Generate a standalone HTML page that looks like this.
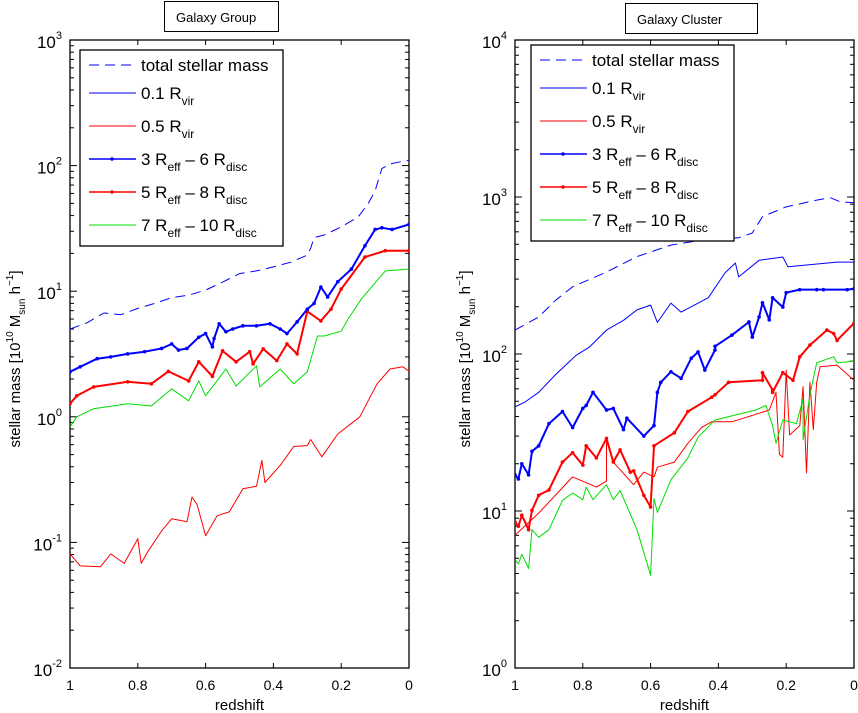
<!DOCTYPE html>
<html><head><meta charset="utf-8">
<style>
html,body{margin:0;padding:0;background:#fff;}
svg{display:block;font-family:"Liberation Sans",sans-serif;}
</style></head>
<body>
<svg id="chart" width="858" height="713" viewBox="0 0 858 713" xmlns="http://www.w3.org/2000/svg"></svg>
<script>
// ---------- data: Galaxy Group ----------
const gTotalZ = [1,0.95,0.9,0.85,0.8,0.75,0.7,0.65,0.6,0.55,0.5,0.45,0.4,0.35,0.3,0.29,0.28,0.25,0.2,0.15,0.12,0.1,0.08,0.05,0.02,0];
const gTotalV = [5.0,5.6,6.7,6.5,7.3,8.0,8.9,9.3,10.2,11.8,13.8,14.5,15.6,17,19.4,22,26.7,28,32.5,39,50,63,95,104,108,110];
const gS36Z = [1,0.97,0.92,0.88,0.83,0.78,0.73,0.7,0.68,0.655,0.62,0.6,0.58,0.575,0.56,0.54,0.52,0.49,0.45,0.41,0.38,0.36,0.33,0.3,0.28,0.26,0.24,0.21,0.17,0.13,0.1,0.08,0.05,0];
const gS36V = [2.28,2.5,2.9,3.0,3.17,3.3,3.5,3.8,3.4,3.5,4.3,4.6,3.6,4.2,5.5,4.75,5.0,5.3,5.3,5.5,5.0,4.6,5.7,7.2,8.0,10.8,9.0,11.9,15,23,31,32,31,34];
const gR05Z = [1,0.97,0.91,0.88,0.84,0.8,0.79,0.77,0.73,0.7,0.655,0.64,0.625,0.6,0.566,0.53,0.49,0.45,0.434,0.425,0.38,0.34,0.3,0.29,0.257,0.21,0.145,0.094,0.056,0.018,0];
const gR05V = [0.081,0.065,0.064,0.081,0.068,0.107,0.068,0.085,0.123,0.154,0.146,0.23,0.2,0.113,0.163,0.175,0.267,0.28,0.45,0.30,0.41,0.58,0.59,0.66,0.48,0.73,1.0,1.83,2.4,2.5,2.3];
const gS58Z = [1,0.98,0.93,0.83,0.76,0.71,0.65,0.62,0.58,0.55,0.51,0.47,0.46,0.43,0.39,0.36,0.33,0.3,0.26,0.23,0.2,0.13,0.07,0];
const gS58V = [1.27,1.47,1.73,1.9,1.83,2.3,1.93,2.74,2.1,3.35,2.74,3.3,2.64,3.47,2.8,3.8,3.17,6.9,5.8,7.2,10.4,18.7,21,21];
const gS710Z = [1,0.98,0.93,0.83,0.76,0.7,0.65,0.62,0.6,0.54,0.51,0.45,0.44,0.38,0.34,0.3,0.27,0.25,0.2,0.18,0.14,0.07,0];
const gS710V = [0.83,1.0,1.16,1.27,1.22,1.67,1.34,1.93,1.47,2.4,1.76,2.55,1.73,2.4,1.83,2.28,4.4,4.4,4.8,6.0,8.7,14.5,15];
// ---------- data: Galaxy Cluster ----------
const cTotalZ = [1,0.93,0.88,0.83,0.73,0.64,0.54,0.44,0.34,0.3,0.27,0.2,0.11,0.07,0.04,0];
const cTotalV = [142,172,220,268,333,417,494,535,550,590,750,865,955,990,930,920];
const cR01Z = [1,0.97,0.93,0.88,0.82,0.78,0.73,0.68,0.64,0.6,0.58,0.54,0.51,0.43,0.38,0.35,0.34,0.28,0.21,0.195,0.05,0];
const cR01V = [46,49.5,57,74,98,111,142,164,191,205,159,211,185,228,330,380,310,395,415,360,385,385];
const cS36Z = [1,0.99,0.98,0.96,0.95,0.93,0.9,0.86,0.83,0.8,0.79,0.77,0.73,0.71,0.68,0.67,0.62,0.59,0.58,0.57,0.54,0.51,0.48,0.46,0.44,0.41,0.41,0.36,0.31,0.3,0.28,0.27,0.25,0.24,0.21,0.2,0.16,0.11,0.09,0.02,0];
const cS36V = [17,16,20,17,24,26,36,43,34,45,47,57,44,45,33,39,30,35,57,66,77,70,94,103,79,106,112,132,160,128,172,212,165,228,199,246,257,257,257,257,260];
const cS58Z = [1,0.99,0.98,0.96,0.95,0.93,0.9,0.86,0.83,0.8,0.79,0.76,0.73,0.71,0.69,0.66,0.65,0.62,0.6,0.59,0.53,0.49,0.42,0.41,0.37,0.27,0.27,0.24,0.24,0.21,0.18,0.16,0.13,0.08,0.06,0.05,0];
const cS58V = [8.5,8,9.4,7.6,10.1,12.6,13.6,20.5,23.5,19.6,26,21.8,29,20.5,24.5,17.7,18,12.6,10.6,26,31.5,43,53,55,66,68,76,59,57,76,68,96,114,142,135,122,157];
const cR05Z = [1,0.93,0.83,0.76,0.73,0.73,0.71,0.65,0.62,0.59,0.58,0.53,0.49,0.45,0.42,0.36,0.25,0.23,0.22,0.21,0.2,0.19,0.16,0.15,0.14,0.13,0.12,0.11,0.1,0.05,0];
const cR05V = [7.0,9.7,16.5,14.2,15.5,28,20.5,14.7,17.7,16.5,19,20.5,27,34,37,37,44,57,23,22,79,30.5,35,62,17.5,66,33,66,83,85,68];
const cS710Z = [1,0.99,0.98,0.96,0.95,0.93,0.9,0.86,0.83,0.8,0.79,0.77,0.73,0.71,0.69,0.64,0.6,0.59,0.58,0.54,0.49,0.46,0.41,0.29,0.26,0.24,0.23,0.21,0.17,0.15,0.15,0.13,0.11,0.06,0.05,0];
const cS710V = [4.9,4.6,5.3,4.3,7.6,6.8,7.6,11.7,13,11.8,14.2,11.8,14.7,11.8,13.5,7.6,3.9,12,9.8,15.8,21.8,29.5,38,44,47,35,27,38,36,52,28.5,55,88,96,88,90];

// ticks
const xTicks = [1,0.8,0.6,0.4,0.2,0];
const xTickLabels = ["1","0.8","0.6","0.4","0.2","0"];
const gDecades = [-2,-1,0,1,2,3];
const cDecades = [0,1,2,3,4];

const NS = "http://www.w3.org/2000/svg";
const svg = document.getElementById('chart');
function el(tag, attrs, parent){
  const e = document.createElementNS(NS, tag);
  for (const k in attrs) e.setAttribute(k, attrs[k]);
  (parent||svg).appendChild(e);
  return e;
}

function makePanel(cfg){
  const g = el('g', {});
  
  
  const L=cfg.x0, R=cfg.x1, T=cfg.y0, B=cfg.y1;
  const xS = z => L + (1 - z) * (R - L);
  const yS = v => B - (Math.log10(v) - cfg.dmin) / (cfg.dmax - cfg.dmin) * (B - T);

  const tb = el('g', {}, g);
  
  
  el('rect', {x:cfg.tx0+0.5, y:cfg.ty0+0.5, width:cfg.tx1-cfg.tx0, height:30, fill:'#fff', stroke:'#000', 'stroke-width':1}, tb);
  const tt = el('text', {x:cfg.tx0+12, y:cfg.ty0+21, 'font-size':13, fill:'#000'}, tb);
  tt.textContent = cfg.title;

  const frame = el('rect', {x:L, y:T, width:R-L, height:B-T, fill:'none', stroke:'#000', 'stroke-width':1.3}, g);
  
  

  xTicks.forEach((z,i)=>{
    const x = xS(z);
    el('line',{x1:x,y1:B,x2:x,y2:B-5,stroke:'#000','stroke-width':1},g);
    el('line',{x1:x,y1:T,x2:x,y2:T+5,stroke:'#000','stroke-width':1},g);
    const t = el('text',{x:x,y:B+22,'font-size':14,'text-anchor':'middle',fill:'#000'},g);
    
    
    t.textContent = xTickLabels[i];
  });
  const xl = el('text',{x:(L+R)/2,y:B+42,'font-size':15,'text-anchor':'middle',fill:'#000'},g);
  
  
  xl.textContent = 'redshift';

  cfg.decades.forEach((d,i)=>{
    const y = yS(Math.pow(10,d));
    el('line',{x1:L,y1:y,x2:L+7,y2:y,stroke:'#000','stroke-width':1},g);
    el('line',{x1:R,y1:y,x2:R-7,y2:y,stroke:'#000','stroke-width':1},g);
    const t = el('text',{x:L-8,y:y+8,'font-size':17,'text-anchor':'end',fill:'#000'},g);
    
    
    const b = el('tspan',{},t); b.textContent='10';
    const s = el('tspan',{dy:-9,'font-size':11},t); s.textContent=String(d);
    if (i < cfg.decades.length-1){
      for (let m=2;m<=9;m++){
        const ym = yS(m*Math.pow(10,d));
        el('line',{x1:L,y1:ym,x2:L+4,y2:ym,stroke:'#000','stroke-width':1},g);
        el('line',{x1:R,y1:ym,x2:R-4,y2:ym,stroke:'#000','stroke-width':1},g);
      }
    }
  });
  const cy = (T+B)/2 + 5;
  const yl = el('text',{x:0,y:0,'font-size':15,'text-anchor':'middle',fill:'#000',transform:`translate(${cfg.ylx},${cy}) rotate(-90)`},g);
  
  
  [['stellar mass [10',0,15],['10',-7,10],[' M',7,15],['sun',5,10],[' h',-5,15],['−1',-7,10],[']',7,15]].forEach(p=>{
    const ts = el('tspan',{dy:p[1],'font-size':p[2]},yl); ts.textContent=p[0];
  });

  const clip = 'clip-'+cfg.name;
  const cp = el('clipPath',{id:clip},g);
  el('rect',{x:L,y:T,width:R-L,height:B-T},cp);
  const sg = el('g',{'clip-path':`url(#${clip})`},g);
  cfg.series.forEach(s=>{
    const pts = s.z.map((z,i)=>xS(z).toFixed(1)+','+yS(s.v[i]).toFixed(1)).join(' ');
    const pl = el('polyline',{points:pts,fill:'none',stroke:s.color,'stroke-width':s.w,'stroke-dasharray':s.dash||'none','stroke-linejoin':'round'},sg);
    
    
    if (s.dots){
      s.z.forEach((z,i)=>{
        const c = el('circle',{cx:xS(z),cy:yS(s.v[i]),r:1.8,fill:s.color},sg);
        
        
      });
    }
  });

  const lg = el('g',{},g);
  
  
  el('rect',{x:cfg.lx0,y:cfg.ly0,width:203,height:196,fill:'#fff',stroke:'#000','stroke-width':1.3},lg);
  const entries = [
    {t:[['total stellar mass',0,17]], color:'#0000ff', dash:'10,6', w:1},
    {t:[['0.1 R',0,17],['vir',6,12]], color:'#0000ff', w:1},
    {t:[['0.5 R',0,17],['vir',6,12]], color:'#ff0000', w:1},
    {t:[['3 R',0,17],['eff',6,12],[' – 6 R',-6,17],['disc',6,12]], color:'#0000ff', w:1.5, dot:true},
    {t:[['5 R',0,17],['eff',6,12],[' – 8 R',-6,17],['disc',6,12]], color:'#ff0000', w:1.5, dot:true},
    {t:[['7 R',0,17],['eff',6,12],[' – 10 R',-6,17],['disc',6,12]], color:'#00dd00', w:1}
  ];
  const rows = [15, 43, 76, 109, 142, 175];
  entries.forEach((e,i)=>{
    const eg = el('g',{},lg);
    
    
    const y = cfg.ly0 + rows[i];
    el('line',{x1:cfg.lx0+9,y1:y,x2:cfg.lx0+56,y2:y,stroke:e.color,'stroke-width':e.w,'stroke-dasharray':e.dash||'none'},eg);
    if (e.dot) el('circle',{cx:cfg.lx0+32,cy:y,r:1.8,fill:e.color},eg);
    const t = el('text',{x:cfg.lx0+61,y:y+6,'font-size':17,fill:'#000'},eg);
    e.t.forEach(p=>{ const ts=el('tspan',{dy:p[1],'font-size':p[2]},t); ts.textContent=p[0]; });
  });
}

makePanel({name:'galaxy-group-panel', title:'Galaxy Group', x0:70, x1:409, y0:40, y1:668, dmin:-2, dmax:3,
  tx0:164, tx1:278, ty0:1, ylx:20, decades:gDecades, lx0:80, ly0:50,
  series:[
    {name:'total-stellar-mass-line', z:gTotalZ, v:gTotalV, color:'#0000ff', w:1, dash:'10,6'},
    {name:'r05-vir-line', z:gR05Z, v:gR05V, color:'#ff0000', w:1},
    {name:'reff7-disc10-line', z:gS710Z, v:gS710V, color:'#00dd00', w:1},
    {name:'reff5-disc8-line', z:gS58Z, v:gS58V, color:'#ff0000', w:2, dots:true},
    {name:'reff3-disc6-line', z:gS36Z, v:gS36V, color:'#0000ff', w:2, dots:true}
  ]});

makePanel({name:'galaxy-cluster-panel', title:'Galaxy Cluster', x0:515, x1:854, y0:40, y1:668, dmin:0, dmax:4,
  tx0:625, tx1:757, ty0:3, ylx:470, decades:cDecades, lx0:531, ly0:45,
  series:[
    {name:'total-stellar-mass-line', z:cTotalZ, v:cTotalV, color:'#0000ff', w:1, dash:'10,6'},
    {name:'r01-vir-line', z:cR01Z, v:cR01V, color:'#0000ff', w:1},
    {name:'reff3-disc6-line', z:cS36Z, v:cS36V, color:'#0000ff', w:2, dots:true},
    {name:'reff5-disc8-line', z:cS58Z, v:cS58V, color:'#ff0000', w:2, dots:true},
    {name:'r05-vir-line', z:cR05Z, v:cR05V, color:'#ff0000', w:1},
    {name:'reff7-disc10-line', z:cS710Z, v:cS710V, color:'#00dd00', w:1}
  ]});
</script>
</body></html>
